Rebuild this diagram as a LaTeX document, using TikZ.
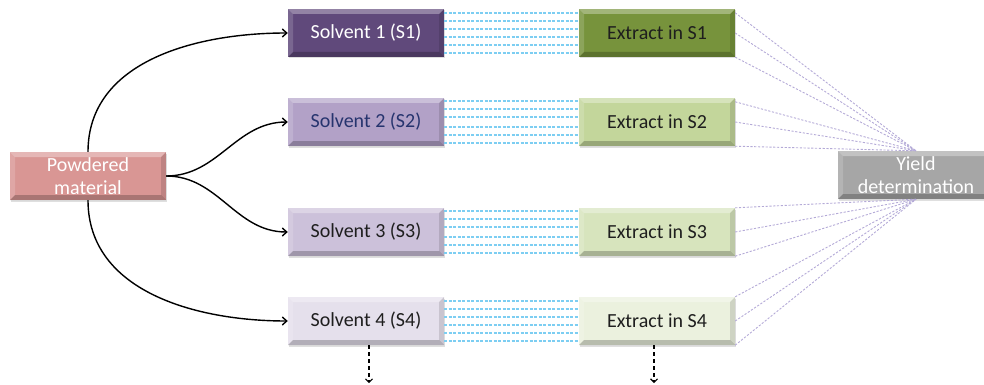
\documentclass[tikz,border=0pt]{standalone}
\usepackage{fontspec}
\setmainfont{Carlito}
\usetikzlibrary{arrows.meta,calc,shadows}
\definecolor{pinkbox}{RGB}{217,150,148}
\definecolor{sone}{RGB}{96,73,123}
\definecolor{stwo}{RGB}{178,161,199}
\definecolor{sthree}{RGB}{204,193,218}
\definecolor{sfour}{RGB}{229,224,236}
\definecolor{eone}{RGB}{119,147,60}
\definecolor{etwo}{RGB}{195,214,155}
\definecolor{ethree}{RGB}{215,228,189}
\definecolor{efour}{RGB}{235,241,222}
\definecolor{yieldc}{RGB}{166,166,166}
\definecolor{cyanl}{RGB}{125,206,242}
\definecolor{lavl}{RGB}{180,170,215}
\definecolor{stwotext}{RGB}{38,52,110}
\definecolor{darktext}{RGB}{30,30,30}
\tikzset{
  bevelbox/.style={minimum width=156pt, minimum height=48pt, inner sep=0pt,
    align=center, font=\fontsize{20}{23}\selectfont,
    drop shadow={opacity=0.25, shadow xshift=1.2pt, shadow yshift=-1.5pt},
    path picture={
      \path (path picture bounding box.north west) coordinate (bnw)
            (path picture bounding box.north east) coordinate (bne)
            (path picture bounding box.south west) coordinate (bsw)
            (path picture bounding box.south east) coordinate (bse);
      \fill[white,opacity=.32] (bnw) -- (bne) -- ([shift={(-5pt,-5pt)}]bne) -- ([shift={(5pt,-5pt)}]bnw) -- cycle;
      \fill[white,opacity=.16] (bnw) -- ([shift={(5pt,-5pt)}]bnw) -- ([shift={(5pt,5pt)}]bsw) -- (bsw) -- cycle;
      \fill[black,opacity=.12] (bne) -- (bse) -- ([shift={(-5pt,5pt)}]bse) -- ([shift={(-5pt,-5pt)}]bne) -- cycle;
      \fill[black,opacity=.22] (bsw) -- (bse) -- ([shift={(-5pt,5pt)}]bse) -- ([shift={(5pt,5pt)}]bsw) -- cycle;
    }},
  cyanline/.style={draw=cyanl, line width=2pt, dash pattern=on 3pt off 1.5pt},
  lavline/.style={draw=lavl, line width=0.9pt, dash pattern=on 2.2pt off 1.6pt},
  arr/.style={black, line width=1.4pt, -{Straight Barb[length=4.5pt,width=8pt]}},
  downarr/.style={black, line width=1.2pt, dash pattern=on 4pt off 3pt, -{Straight Barb[length=3.5pt,width=7pt]}},
}
\begin{document}
\begin{tikzpicture}[x=1pt,y=1pt]
\useasboundingbox (0,0) rectangle (984,-385);
% nodes
\node[bevelbox, fill=pinkbox, text=white] (p) at (88,-176) {Powdered\\material};
\node[bevelbox, fill=sone, text=white] (s1) at (366,-33) {Solvent 1 (S1)};
\node[bevelbox, fill=stwo, text=stwotext] (s2) at (366,-122) {Solvent 2 (S2)};
\node[bevelbox, fill=sthree, text=darktext] (s3) at (366,-232) {Solvent 3 (S3)};
\node[bevelbox, fill=sfour, text=darktext] (s4) at (366,-321) {Solvent 4 (S4)};
\node[bevelbox, fill=eone, text=darktext] (e1) at (657,-33) {Extract in S1};
\node[bevelbox, fill=etwo, text=darktext] (e2) at (657,-122) {Extract in S2};
\node[bevelbox, fill=ethree, text=darktext] (e3) at (657,-232) {Extract in S3};
\node[bevelbox, fill=efour, text=darktext] (e4) at (657,-321) {Extract in S4};
\node[bevelbox, fill=yieldc, text=white] (y) at (916,-175) {Yield\\determination};
% dotted links solvent -> extract
\foreach \i in {1,4}{
  \foreach \d in {4,12,20,28,36,44}{
    \draw[cyanline] ([yshift=-\d pt]s\i.north east) -- ([yshift=-\d pt]e\i.north west);
  }
}
\foreach \i in {2,3}{
  \foreach \d in {3,11,19,29,37,45}{
    \draw[cyanline] ([yshift=-\d pt]s\i.north east) -- ([yshift=-\d pt]e\i.north west);
  }
}
% links extract -> yield
\foreach \i in {1,2}{
  \draw[lavline] ([yshift=-4pt]e\i.north east) -- (y.north);
  \draw[lavline] (e\i.east) -- (y.north);
  \draw[lavline] (e\i.south east) -- (y.north);
}
\foreach \i in {3,4}{
  \draw[lavline] (e\i.north east) -- (y.south);
  \draw[lavline] (e\i.east) -- (y.south);
  \draw[lavline] (e\i.south east) -- (y.south);
}
% curved arrows
\draw[arr] (p.north) to[out=90,in=180] (s1.west);
\draw[arr] (p.east) to[out=0,in=180] (s2.west);
\draw[arr] (p.east) to[out=0,in=180] (s3.west);
\draw[arr] (p.south) to[out=-90,in=180] (s4.west);
% dashed down arrows
\coordinate (d1) at ($(s4.south)+(3,-38)$);
\coordinate (d2) at ($(e4.south)+(-3,-38)$);
\draw[downarr] ([xshift=3pt]s4.south) -- (d1);
\draw[downarr] ([xshift=-3pt]e4.south) -- (d2);
\end{tikzpicture}
\end{document}
